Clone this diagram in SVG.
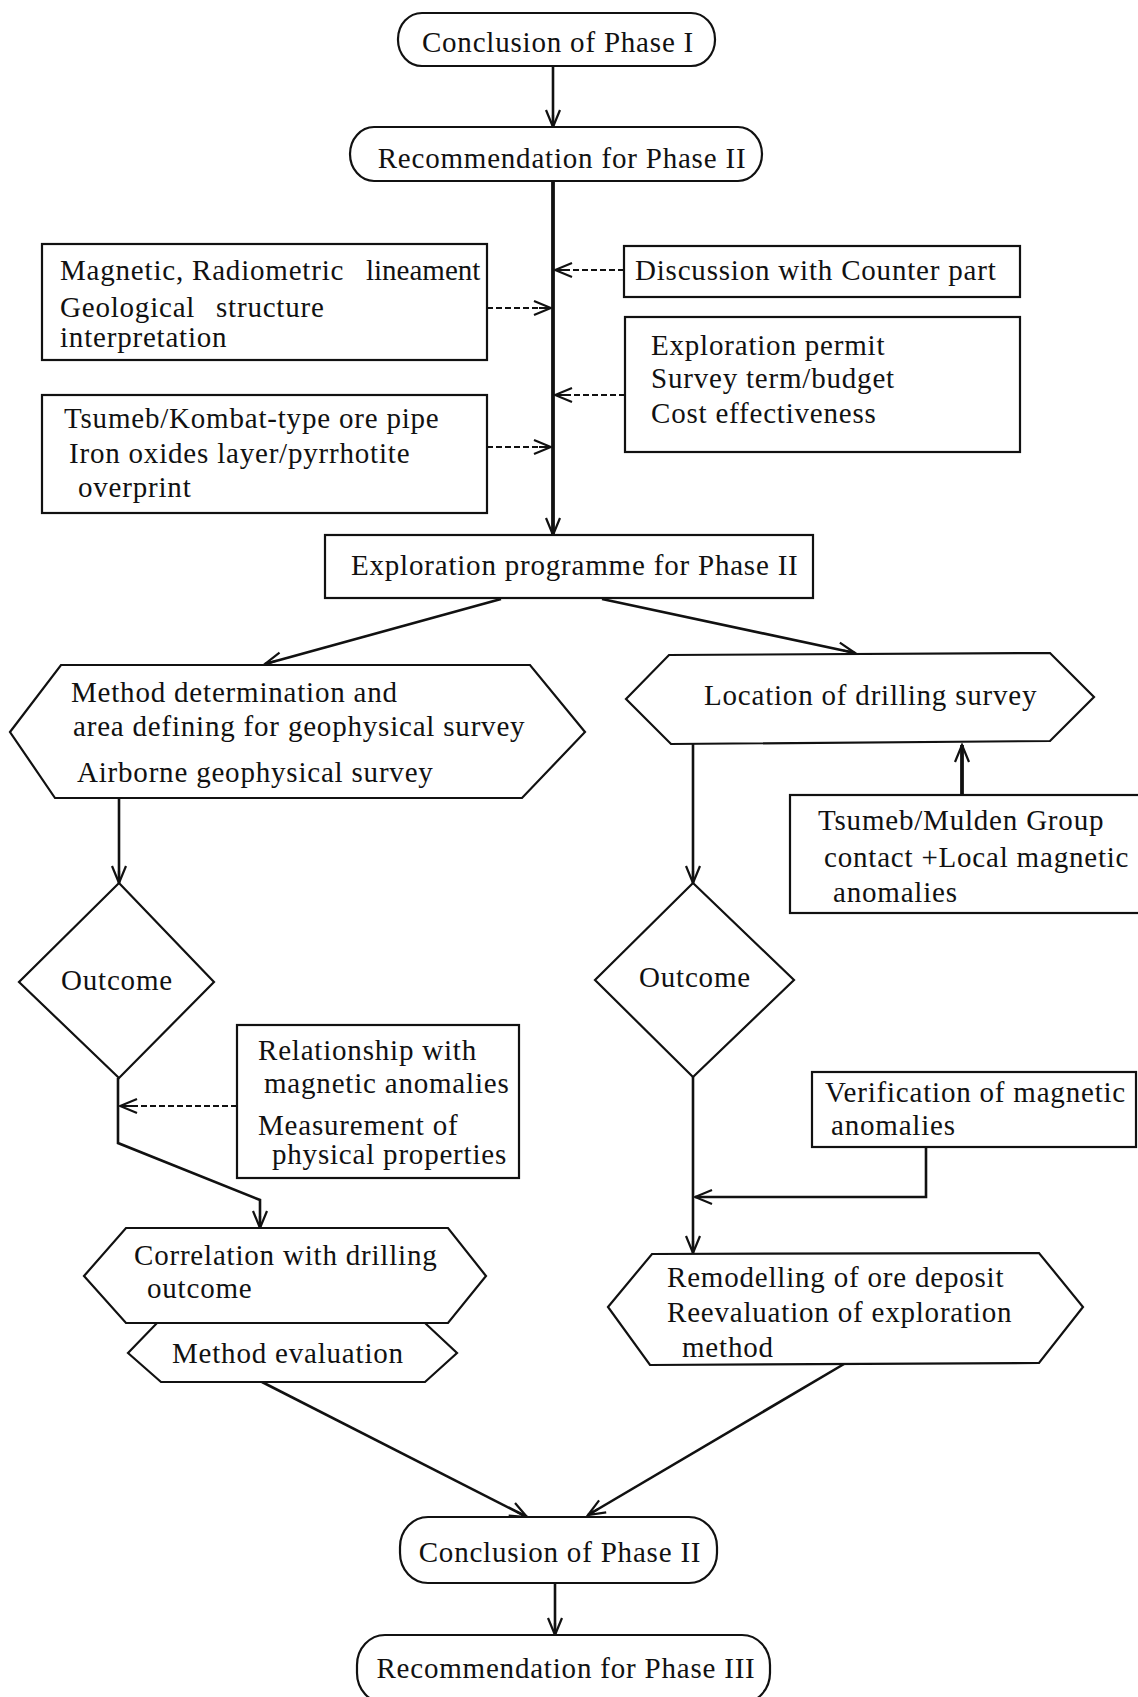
<svg xmlns="http://www.w3.org/2000/svg" width="1138" height="1697" viewBox="0 0 1138 1697">
<defs>
<style>
.t{font-family:"Liberation Serif","Times New Roman",serif;font-size:29px;letter-spacing:0.8px;fill:#111}
.c{text-anchor:middle}
.s{fill:#fff;stroke:#111;stroke-width:2.2}
.ln{fill:none;stroke:#111;stroke-width:2.6}
.thick{fill:none;stroke:#111;stroke-width:3.8}
.dash{fill:none;stroke:#111;stroke-width:2;stroke-dasharray:6 3}
</style>
<marker id="arr" viewBox="-20 -10 22 20" refX="0" refY="0" markerWidth="22" markerHeight="20" markerUnits="userSpaceOnUse" orient="auto">
<path d="M-17,-7 L0,0 L-17,7 M-12,0 L0,0" fill="none" stroke="#111" stroke-width="2.2"/>
</marker>
</defs>
<rect width="1138" height="1697" fill="#fff"/>

<g id="connectors">
<line class="ln" x1="553" y1="66" x2="553" y2="127" marker-end="url(#arr)"/>
<line class="thick" x1="553" y1="181" x2="553" y2="535" marker-end="url(#arr)"/>
<line class="dash" x1="487" y1="308" x2="551" y2="308" marker-end="url(#arr)"/>
<line class="dash" x1="487" y1="447" x2="551" y2="447" marker-end="url(#arr)"/>
<line class="dash" x1="624" y1="270" x2="555" y2="270" marker-end="url(#arr)"/>
<line class="dash" x1="625" y1="395" x2="555" y2="395" marker-end="url(#arr)"/>
<line class="ln" x1="501" y1="599" x2="265" y2="664" marker-end="url(#arr)"/>
<line class="ln" x1="602" y1="599" x2="855" y2="653" marker-end="url(#arr)"/>
<line class="ln" x1="119" y1="798" x2="119" y2="883" marker-end="url(#arr)"/>
<line class="ln" x1="693" y1="743" x2="693" y2="883" marker-end="url(#arr)"/>
<line class="thick" x1="962" y1="795" x2="962" y2="745" marker-end="url(#arr)"/>
<polyline class="ln" points="118,1078 118,1143 260,1200 260,1228" marker-end="url(#arr)"/>
<line class="dash" x1="237" y1="1106" x2="120" y2="1106" marker-end="url(#arr)"/>
<line class="ln" x1="693" y1="1077" x2="693" y2="1253" marker-end="url(#arr)"/>
<polyline class="ln" points="926,1147 926,1197 695,1197" marker-end="url(#arr)"/>
<line class="ln" x1="262" y1="1382" x2="527" y2="1517" marker-end="url(#arr)"/>
<line class="ln" x1="844" y1="1364" x2="588" y2="1515" marker-end="url(#arr)"/>
<line class="ln" x1="555" y1="1583" x2="555" y2="1635" marker-end="url(#arr)"/>
</g>

<g id="n-conclusion1">
<rect class="s" x="398" y="13" width="317" height="53" rx="24" ry="26"/>
<text class="t c" x="558" y="52">Conclusion of Phase I</text>
</g>
<g id="n-recommendation2">
<rect class="s" x="350" y="127" width="412" height="54" rx="24" ry="27"/>
<text class="t c" x="562" y="168">Recommendation for Phase II</text>
</g>
<g id="n-magnetic">
<rect class="s" x="42" y="244" width="445" height="116"/>
<text class="t"><tspan x="60" y="280">Magnetic, Radiometric</tspan><tspan x="366" y="280" style="letter-spacing:0">lineament</tspan><tspan x="60" y="317">Geological</tspan><tspan x="216" y="317">structure</tspan><tspan x="60" y="347">interpretation</tspan></text>
</g>
<g id="n-tsumeb-kombat">
<rect class="s" x="42" y="395" width="445" height="118"/>
<text class="t"><tspan x="64" y="428">Tsumeb/Kombat-type ore pipe</tspan><tspan x="69" y="463">Iron oxides layer/pyrrhotite</tspan><tspan x="78" y="497">overprint</tspan></text>
</g>
<g id="n-discussion">
<rect class="s" x="624" y="246" width="396" height="51"/>
<text class="t" x="635" y="280">Discussion with Counter part</text>
</g>
<g id="n-permit">
<rect class="s" x="625" y="317" width="395" height="135"/>
<text class="t"><tspan x="651" y="355">Exploration permit</tspan><tspan x="651" y="388">Survey term/budget</tspan><tspan x="651" y="423">Cost effectiveness</tspan></text>
</g>
<g id="n-programme">
<rect class="s" x="325" y="535" width="488" height="63"/>
<text class="t" x="351" y="575">Exploration programme for Phase II</text>
</g>
<g id="n-method">
<polygon class="s" points="10,732 61,665 530,665 585,732 522,798 55,798"/>
<text class="t"><tspan x="71" y="702">Method determination and</tspan><tspan x="73" y="736">area defining for geophysical survey</tspan><tspan x="77" y="782">Airborne geophysical survey</tspan></text>
</g>
<g id="n-location">
<polygon class="s" points="626,699 669,655 1050,653 1094,697 1050,741 671,744"/>
<text class="t" x="704" y="705">Location of drilling survey</text>
</g>
<g id="n-tsumeb-mulden">
<rect class="s" x="790" y="795" width="360" height="118"/>
<text class="t"><tspan x="818" y="830">Tsumeb/Mulden Group</tspan><tspan x="824" y="867">contact +Local magnetic</tspan><tspan x="833" y="902">anomalies</tspan></text>
</g>
<g id="n-outcome-left">
<polygon class="s" points="119,883 214,982 119,1078 19,982"/>
<text class="t c" x="117" y="990">Outcome</text>
</g>
<g id="n-outcome-right">
<polygon class="s" points="693,883 794,980 693,1077 595,980"/>
<text class="t c" x="695" y="987">Outcome</text>
</g>
<g id="n-relationship">
<rect class="s" x="237" y="1025" width="282" height="153"/>
<text class="t"><tspan x="258" y="1060">Relationship with</tspan><tspan x="264" y="1093">magnetic anomalies</tspan><tspan x="258" y="1135">Measurement of</tspan><tspan x="272" y="1164">physical properties</tspan></text>
</g>
<g id="n-verification">
<rect class="s" x="812" y="1072" width="324" height="75"/>
<text class="t"><tspan x="825" y="1102">Verification of magnetic</tspan><tspan x="831" y="1135">anomalies</tspan></text>
</g>
<g id="n-correlation">
<polygon class="s" points="84,1276 126,1228 448,1228 486,1276 448,1323 126,1323"/>
<text class="t"><tspan x="134" y="1265">Correlation with drilling</tspan><tspan x="147" y="1298">outcome</tspan></text>
</g>
<g id="n-evaluation">
<polygon class="s" points="128,1353 157,1323 425,1323 457,1353 425,1382 161,1382"/>
<text class="t" x="172" y="1363">Method evaluation</text>
</g>
<g id="n-remodelling">
<polygon class="s" points="608,1307 652,1254 1039,1253 1083,1307 1039,1363 650,1365"/>
<text class="t"><tspan x="667" y="1287">Remodelling of ore deposit</tspan><tspan x="667" y="1322">Reevaluation of exploration</tspan><tspan x="682" y="1357">method</tspan></text>
</g>
<g id="n-conclusion2">
<rect class="s" x="400" y="1517" width="317" height="66" rx="28" ry="30"/>
<text class="t c" x="560" y="1562">Conclusion of Phase II</text>
</g>
<g id="n-recommendation3">
<rect class="s" x="357" y="1635" width="413" height="68" rx="28" ry="30"/>
<text class="t c" x="566" y="1678">Recommendation for Phase III</text>
</g>
</svg>
